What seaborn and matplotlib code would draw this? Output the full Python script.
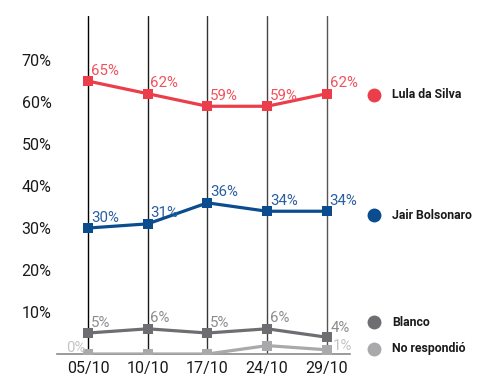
import matplotlib
matplotlib.use("Agg")
import matplotlib.pyplot as plt
import seaborn as sns
import pandas as pd

# Encuestas: intención de voto por fecha
fechas = ["05/10", "10/10", "17/10", "24/10", "29/10"]
series = ["No respondió", "Blanco", "Jair Bolsonaro", "Lula da Silva"]
lula = [65, 62, 59, 59, 62]
bolsonaro = [30, 31, 36, 34, 34]
blanco = [5, 6, 5, 6, 4]
no_respondio = [0, 0, 0, 2, 1]
# etiquetas visibles (None = sin etiqueta)
etiquetas_no_resp = ["0%", None, None, None, "1%"]
y_ticks = [10, 20, 30, 40, 50, 60, 70]

valores = {
    "Lula da Silva": lula,
    "Jair Bolsonaro": bolsonaro,
    "Blanco": blanco,
    "No respondió": no_respondio,
}
colores = {
    "Lula da Silva": "#EC3E4A",
    "Jair Bolsonaro": "#0B4C8E",
    "Blanco": "#6E6E72",
    "No respondió": "#A9A9AB",
}
colores_texto = {
    "Lula da Silva": "#F0525C",
    "Jair Bolsonaro": "#2A5FA0",
    "Blanco": "#8C8C8E",
    "No respondió": "#C4C4C6",
}
legend_y = {
    "Lula da Silva": 61.7,
    "Jair Bolsonaro": 33.0,
    "Blanco": 7.6,
    "No respondió": 1.2,
}

filas = []
for s in series:
    for i, v in enumerate(valores[s]):
        filas.append({"x": i, "valor": v, "serie": s})
df = pd.DataFrame(filas)

sns.set_style("white")
plt.rcParams["font.family"] = ["Roboto", "DejaVu Sans"]

fig = plt.figure(figsize=(4.87, 3.79), dpi=100)
ax = fig.add_axes([57 / 487, 1 - 354 / 379, (350 - 57) / 487, (354 - 16) / 379])

# líneas verticales por fecha
grises = ["#000000", "#1a1a1a", "#333333", "#444444", "#555555"]
for i in range(len(fechas)):
    ax.axvline(i, color=grises[i], lw=1.0, zorder=1)

sns.lineplot(
    data=df, x="x", y="valor", hue="serie", hue_order=series,
    palette=colores, marker="s", markersize=6.5, markeredgewidth=0,
    linewidth=2.3, legend=False, ax=ax, zorder=3,
)

ax.set_xlim(-0.52, 4.39)
ax.set_ylim(0, 80.5)
ax.set_xticks(range(len(fechas)))
ax.set_xticklabels(fechas, fontsize=11.5, color="#1A1A1A")
ax.set_yticks(y_ticks)
ax.set_yticklabels([f"{t}%" for t in y_ticks], fontsize=11.5, color="#1A1A1A")
ax.tick_params(axis="both", length=0, pad=4)
ax.tick_params(axis="x", pad=5)
ax.set_xlabel("")
ax.set_ylabel("")
for lado in ["top", "right", "left"]:
    ax.spines[lado].set_visible(False)
ax.spines["bottom"].set_color("#8A8A8A")
ax.spines["bottom"].set_linewidth(1.2)
ax.spines["bottom"].set_zorder(2)

# etiquetas de valor
for s in series:
    for i, v in enumerate(valores[s]):
        texto = f"{v}%"
        dx, dy, ha = 2, 2.5, "left"
        if s == "No respondió":
            texto = etiquetas_no_resp[i]
            if texto is None:
                continue
            if i == 0:
                dx, dy, ha = -2, -1, "right"
            else:
                dx, dy = 4.5, -2.5
        if s == "Blanco" and i == 4:
            dx, dy = 3, 1.5
        ax.annotate(texto, (i, v), xytext=(dx, dy), textcoords="offset points",
                    ha=ha, va="bottom", fontsize=10.8, color=colores_texto[s],
                    zorder=5, annotation_clip=False)

# leyenda junto a cada serie
for s in series:
    ax.scatter([4.79], [legend_y[s]], s=100, color=colores[s], clip_on=False,
               zorder=5, linewidths=0)
    ax.text(5.10, legend_y[s], s, fontsize=8.8, fontweight="bold",
            color="#1A1A1A", va="center", ha="left", clip_on=False)

fig.savefig("out.png", dpi=100, facecolor="white")
